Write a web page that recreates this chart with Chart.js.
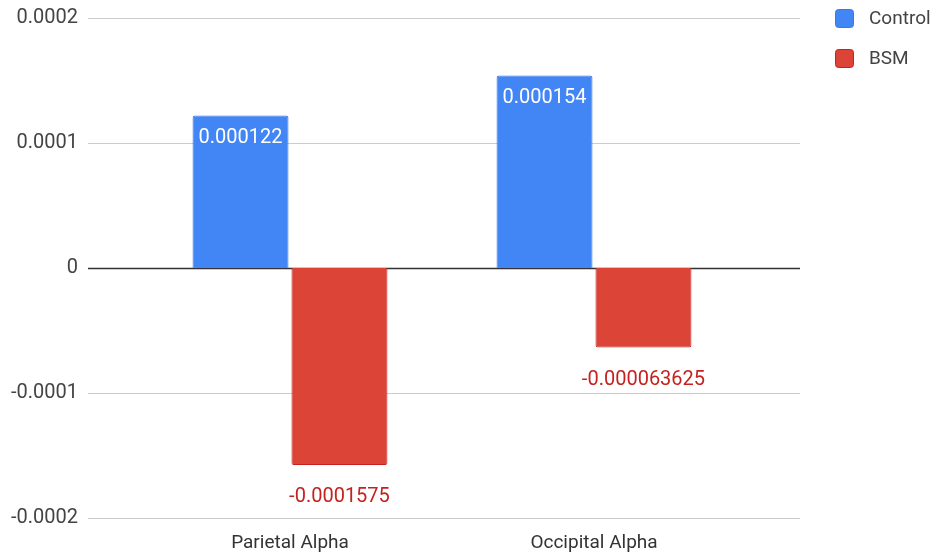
<!DOCTYPE html>
<html>
<head>
<meta charset="utf-8">
<script src="https://cdn.jsdelivr.net/npm/chart.js@4/dist/chart.umd.min.js"></script>
<style>
  html, body { margin: 0; padding: 0; background: #fff; }
  #wrap { width: 940px; height: 558px; }
</style>
</head>
<body>
<div id="wrap"><canvas id="chart" width="940" height="558"></canvas></div>
<script>
const categories = ["Parietal Alpha", "Occipital Alpha"];
const controlValues = [0.000122, 0.000154];
const bsmValues = [-0.0001575, -0.000063625];
const seriesNames = ["Control", "BSM"];
const yTicks = [-0.0002, -0.0001, 0, 0.0001, 0.0002];

const FONT = "Roboto, 'Noto Sans', sans-serif";

// horizontal grid lines run wider than the plot, like the original
const gridLines = {
  id: "gridLines",
  beforeDatasetsDraw(chart) {
    const ctx = chart.ctx, y = chart.scales.y;
    ctx.save();
    yTicks.forEach(t => {
      const py = Math.round(y.getPixelForValue(t)) + 0.5;
      ctx.strokeStyle = t === 0 ? "#333" : "#ccc";
      ctx.lineWidth = t === 0 ? 1.5 : 1;
      ctx.beginPath();
      ctx.moveTo(88, py);
      ctx.lineTo(800, py);
      ctx.stroke();
    });
    ctx.restore();
  }
};

const valueLabels = {
  id: "valueLabels",
  afterDatasetsDraw(chart) {
    const ctx = chart.ctx;
    ctx.save();
    ctx.font = "20px " + FONT;
    ctx.textAlign = "center";
    ctx.textBaseline = "middle";
    chart.data.datasets.forEach((ds, i) => {
      chart.getDatasetMeta(i).data.forEach((bar, j) => {
        const v = ds.data[j];
        if (v >= 0) {
          ctx.fillStyle = "#fff";
          ctx.fillText(String(v), bar.x, bar.y + 22);
        } else {
          ctx.fillStyle = "#c5221f";
          ctx.fillText(String(v), bar.x, bar.y + 32);
        }
      });
    });
    ctx.restore();
  }
};

const sideLegend = {
  id: "sideLegend",
  afterDraw(chart) {
    const ctx = chart.ctx;
    ctx.save();
    ctx.font = "19px " + FONT;
    ctx.textBaseline = "middle";
    chart.data.datasets.forEach((ds, i) => {
      const top = 9 + i * 40;
      ctx.fillStyle = ds.backgroundColor;
      ctx.strokeStyle = ds.borderColor;
      ctx.lineWidth = 1;
      ctx.beginPath();
      ctx.roundRect(835.5, top + 0.5, 18, 18, 3);
      ctx.fill();
      ctx.stroke();
      ctx.fillStyle = "#444";
      ctx.fillText(ds.label, 869, top + 10);
    });
    ctx.restore();
  }
};

new Chart(document.getElementById("chart"), {
  type: "bar",
  data: {
    labels: categories,
    datasets: [
      {
        label: seriesNames[0],
        data: controlValues,
        backgroundColor: "#4285f4",
        borderColor: "#3b78e7",
        borderWidth: 1,
        borderRadius: 2,
        borderSkipped: "start"
      },
      {
        label: seriesNames[1],
        data: bsmValues,
        backgroundColor: "#db4437",
        borderColor: "#c5221f",
        borderWidth: 1,
        borderRadius: 2,
        borderSkipped: "start"
      }
    ]
  },
  options: {
    responsive: false,
    animation: false,
    categoryPercentage: 0.651,
    barPercentage: 0.97,
    layout: { padding: { left: 0, right: 194, top: 18, bottom: 0 } },
    plugins: {
      legend: { display: false },
      tooltip: { enabled: false }
    },
    scales: {
      x: {
        grid: { display: false, drawTicks: false },
        border: { display: false },
        ticks: { color: "#333", font: { family: FONT, size: 19 }, padding: 14 },
        afterFit(s) { s.height = 40; }
      },
      y: {
        min: -0.0002,
        max: 0.0002,
        afterBuildTicks(s) { s.ticks = yTicks.map(v => ({ value: v })); },
        grid: { display: false, drawTicks: false },
        border: { display: false },
        ticks: {
          color: "#444",
          font: { family: FONT, size: 20 },
          padding: 60,
          callback: v => String(v)
        },
        afterFit(s) {
          s.width = 138;
          s.paddingTop = 0;
          s.paddingBottom = 0;
        }
      }
    }
  },
  plugins: [gridLines, valueLabels, sideLegend]
});
</script>
</body>
</html>
